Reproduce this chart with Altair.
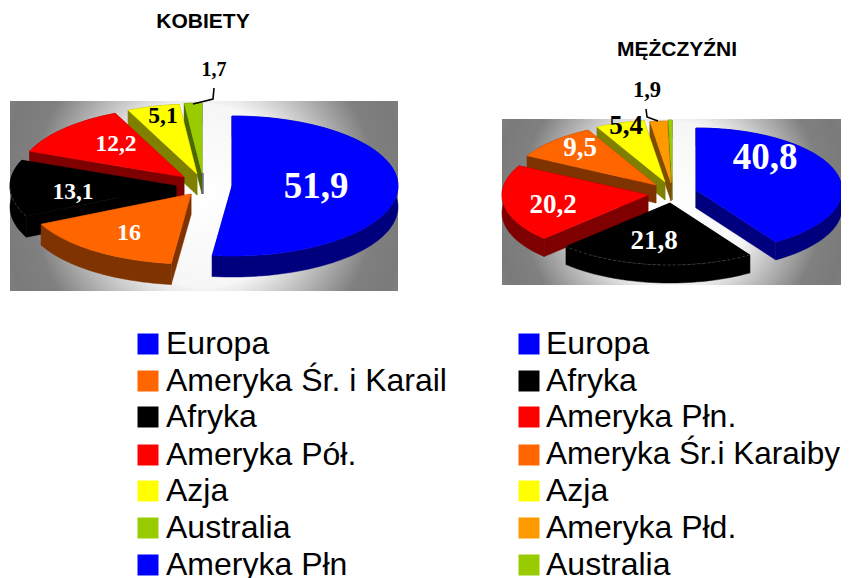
import math
import altair as alt
import pandas as pd

# --- values ---
women_names = ["Europa", "Ameryka Śr. i Karail", "Afryka", "Ameryka Pół.", "Azja", "Australia", "Ameryka Płn"]
women_values = [51.9, 16, 13.1, 12.2, 5.1, 1.7, 0]
women_labels = ["51,9", "16", "13,1", "12,2", "5,1", "1,7", ""]
women_colors = ["#0000ff", "#ff6600", "#000000", "#ff0000", "#ffff00", "#99cc00", "#0000ff"]

men_names = ["Europa", "Afryka", "Ameryka Płn.", "Ameryka Śr.i Karaiby", "Azja", "Ameryka Płd.", "Australia"]
men_values = [40.8, 21.8, 20.2, 9.5, 5.4, 1.9, 0.4]
men_labels = ["40,8", "21,8", "20,2", "9,5", "5,4", "1,9", ""]
men_colors = ["#0000ff", "#000000", "#ff0000", "#ff6600", "#ffff00", "#ff9900", "#99cc00"]

# --- layout (page pixels, fed through the x/y scales) ---
women_apex = [(232, 186), (191, 194), (176, 186), (184, 177), (197, 174), (202, 173), (203, 173)]
men_apex = [(696, 190), (670, 203), (648, 195), (656, 185), (665, 182), (671, 183), (672, 182)]
women_shape = dict(rx=166, ry=70, depth=21)
men_shape = dict(rx=146, ry=62, depth=18)
women_text_pos = [(316, 187, 37, "white"), (129, 233, 24, "white"), (73, 192, 23.5, "white"),
                  (116, 144, 23.5, "white"), (163, 116, 23.5, "black"), (214, 70, 20, "black")]
men_text_pos = [(765, 158, 37, "white"), (654, 241, 27, "white"), (553, 205, 27, "white"),
                (580, 148, 27, "white"), (626, 126, 27, "black"), (647, 90, 22.5, "black")]
panels = [dict(x=10, x2=398, y=101, y2=291), dict(x=502, x2=842, y=119, y2=285)]
titles = [dict(x=203, y=22, t="KOBIETY"), dict(x=677, y=50, t="MĘŻCZYŹNI")]
leaders = [[(193, 104), (213, 99), (214, 88)], [(646, 109), (647, 117), (658, 121)]]
legend_rows = [344, 381, 417, 455, 491, 528, 565]
legend_cols = [(148, 166), (529, 546)]
DOMAIN_X = [8, 841]
DOMAIN_Y = [578, 8]


def darker(c):
    return "#" + "".join(f"{int(c[i:i+2], 16) // 2:02x}" for i in (1, 3, 5))


rows, seams = [], []
fid = 0


def add(points, fill):
    global fid
    fid += 1
    for i, (x, y) in enumerate(points):
        rows.append(dict(x=x, y=y, i=i, face=f"f{fid:03d}", fill=fill))


def pie(values, colors, apex, rx, ry, depth):
    total = sum(values)
    ang = 0.0
    spans = []
    for v in values:
        a = ang + 360 * v / total
        spans.append((ang, a))
        ang = a
    # back wedges first: the last ones sit behind, the first (blue) comes on top
    for k in range(len(values) - 1, -1, -1):
        a0, a1 = spans[k]
        cx, cy = apex[k]
        col, dk = colors[k], darker(colors[k])
        if values[k] == 0:
            add([(cx, cy), (cx, cy + depth)], dk)
            continue
        n = max(2, int((a1 - a0) / 2))
        angles = [a0 + (a1 - a0) * j / n for j in range(n + 1)]
        arc = [(cx + rx * math.sin(math.radians(t)), cy - ry * math.cos(math.radians(t))) for t in angles]
        for e in (arc[0], arc[-1]):
            add([(cx, cy), e, (e[0], e[1] + depth), (cx, cy + depth)], dk)
        add(arc + [(x, y + depth) for x, y in reversed(arc)], dk)
        add([(cx, cy)] + arc, col)
        if col == "#000000":
            front = [p for p, t in zip(arc, angles) if 90 <= t <= 270]
            tag = f"s{len(seams)}"
            seams.extend(dict(x=x, y=y, i=i, s=tag) for i, (x, y) in enumerate(front))


pie(women_values, women_colors, women_apex, **women_shape)
pie(men_values, men_colors, men_apex, **men_shape)

X = alt.X("x:Q", axis=None, scale=alt.Scale(domain=DOMAIN_X, nice=False, zero=False))
Y = alt.Y("y:Q", axis=None, scale=alt.Scale(domain=DOMAIN_Y, nice=False, zero=False))

gradient = {"gradient": "radial", "x1": 0.5, "y1": 0.5, "x2": 0.5, "y2": 0.5, "r1": 0, "r2": 0.62,
            "stops": [{"offset": 0, "color": "#ffffff"}, {"offset": 0.38, "color": "#f6f6f6"},
                      {"offset": 0.72, "color": "#808080"}, {"offset": 0.85, "color": "#7a7a7a"},
                      {"offset": 1, "color": "#8c8c8c"}]}
background = alt.Chart(pd.DataFrame(panels)).mark_rect(fill=gradient).encode(
    x=X, x2="x2:Q", y=Y, y2="y2:Q")

wedges = alt.Chart(pd.DataFrame(rows)).mark_line(filled=True, strokeWidth=0.5, interpolate="linear-closed").encode(
    x=X, y=Y, order=alt.Order("i:Q"), detail="face:N",
    fill=alt.Fill("fill:N", scale=None), stroke=alt.Stroke("fill:N", scale=None))

seam = alt.Chart(pd.DataFrame(seams)).mark_line(stroke="#555555", strokeWidth=0.6, strokeDash=[3, 2]).encode(
    x=X, y=Y, order=alt.Order("i:Q"), detail="s:N")

lead_rows = [dict(x=x, y=y, i=i, l=k) for k, pts in enumerate(leaders) for i, (x, y) in enumerate(pts)]
lead = alt.Chart(pd.DataFrame(lead_rows)).mark_line(stroke="black", strokeWidth=1.6).encode(
    x=X, y=Y, order=alt.Order("i:Q"), detail="l:N")

value_rows = [dict(x=p[0], y=p[1], size=p[2], color=p[3], t=t)
              for labels, pos in ((women_labels, women_text_pos), (men_labels, men_text_pos))
              for t, p in zip(labels, pos)]
value_text = alt.Chart(pd.DataFrame(value_rows)).mark_text(
    font="Liberation Serif", fontWeight="bold", align="center", baseline="middle").encode(
    x=X, y=Y, text="t:N", size=alt.Size("size:Q", scale=None, legend=None),
    color=alt.Color("color:N", scale=None))

title_text = alt.Chart(pd.DataFrame(titles)).mark_text(
    font="Liberation Sans", fontWeight="bold", fontSize=21, align="center", baseline="middle", color="black"
).encode(x=X, y=Y, text="t:N")

legend_data = []
for (sq, tx), names, cols in zip(legend_cols, (women_names, men_names), (women_colors, men_colors)):
    for name, c, yy in zip(names, cols, legend_rows):
        # the longest label has to stay inside the page's drawable width
        legend_data.append(dict(x=sq, tx=tx, y=yy, name=name, c=c, fs=31.5 if name.endswith("Karaiby") else 32))
legend_df = pd.DataFrame(legend_data)
swatch = alt.Chart(legend_df).mark_point(shape="square", filled=True, size=441, opacity=1).encode(
    x=X, y=Y, fill=alt.Fill("c:N", scale=None), stroke=alt.value(None))
legend_text = alt.Chart(legend_df).mark_text(
    font="Liberation Sans", align="left", baseline="middle", color="black").encode(
    x=alt.X("tx:Q", axis=None, scale=alt.Scale(domain=DOMAIN_X, nice=False, zero=False)), y=Y, text="name:N",
    size=alt.Size("fs:Q", scale=None, legend=None))

chart = alt.layer(background, wedges, seam, lead, value_text, title_text, swatch, legend_text).properties(
    width=833, height=570, padding=0, autosize=alt.AutoSizeParams(type="none"),
).configure_view(stroke=None)

chart.save("out.html", embed_options={"renderer": "svg", "actions": False})
